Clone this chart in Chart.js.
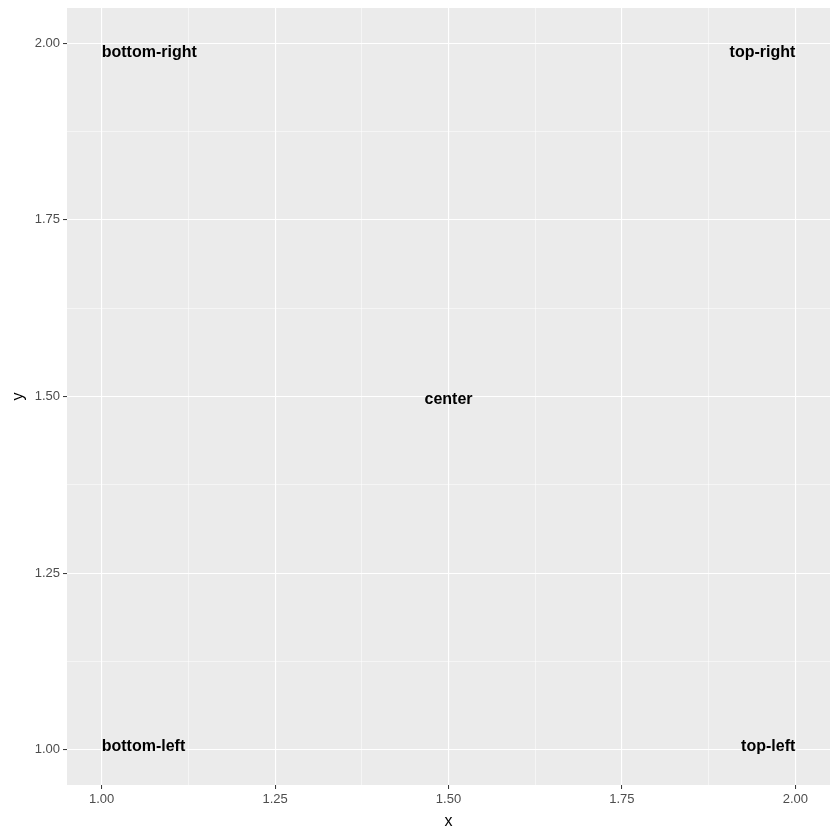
<!DOCTYPE html>
<html lang="en">
<head>
  <meta charset="UTF-8">
  <title>Text justification</title>
  <script src="https://cdn.jsdelivr.net/npm/chart.js"></script>
  <style>
    body { margin: 0; padding: 0; background: #fff; }
    .chart-container { width: 840px; height: 840px; }
  </style>
</head>
<body>
  <div class="chart-container">
    <canvas id="textChart" width="840" height="840"></canvas>
  </div>

  <script>
    // Daten
    const labelX = [1, 2, 1, 2, 1.5];
    const labelY = [1, 1, 2, 2, 1.5];
    const labelText = ['bottom-left', 'top-left', 'bottom-right', 'top-right', 'center'];

    const majorTicks = [1.00, 1.25, 1.50, 1.75, 2.00];
    const minorTicks = [1.125, 1.375, 1.625, 1.875];
    const axisMin = 0.95;
    const axisMax = 2.05;

    const allTicks = majorTicks.concat(minorTicks).sort((a, b) => a - b);
    const isMajor = v => majorTicks.some(m => Math.abs(m - v) < 1e-9);

    // Hintergrund des Panels (grau wie ggplot)
    const panelBg = {
      id: 'panelBg',
      beforeDraw(chart) {
        const { ctx, chartArea: a } = chart;
        ctx.save();
        ctx.fillStyle = '#ebebeb';
        ctx.fillRect(a.left, a.top, a.right - a.left, a.bottom - a.top);
        ctx.restore();
      }
    };

    // Texte mit "inward"-Ausrichtung
    const textLabels = {
      id: 'textLabels',
      afterDatasetsDraw(chart) {
        const { ctx, scales } = chart;
        const midX = (axisMin + axisMax) / 2;
        const midY = (axisMin + axisMax) / 2;
        ctx.save();
        ctx.fillStyle = '#000';
        ctx.font = 'bold 16px "Liberation Sans", Arial, sans-serif';
        labelText.forEach((t, i) => {
          const px = scales.x.getPixelForValue(labelX[i]);
          const py = scales.y.getPixelForValue(labelY[i]);
          ctx.textAlign = labelX[i] < midX ? 'left' : (labelX[i] > midX ? 'right' : 'center');
          let yOff = 0;
          if (labelY[i] > midY) { ctx.textBaseline = 'top'; yOff = 1; }
          else if (labelY[i] < midY) { ctx.textBaseline = 'alphabetic'; yOff = 1; }
          else { ctx.textBaseline = 'middle'; yOff = 3; }
          ctx.fillText(t, px, py + yOff);
        });
        ctx.restore();
      }
    };

    function axisOptions(title, isY) {
      return {
        type: 'linear',
        min: axisMin,
        max: axisMax,
        afterBuildTicks: axis => { axis.ticks = allTicks.map(v => ({ value: v })); },
        afterFit: axis => {
          if (isY) {
            axis.width = 67;
            axis.paddingTop = 0;
            axis.paddingBottom = 0;
          } else {
            axis.height = 55;
            axis.paddingLeft = 0;
            axis.paddingRight = 0;
          }
        },
        border: { display: false },
        grid: {
          drawTicks: true,
          tickLength: 4,
          color: '#ffffff',
          lineWidth: ctx => isMajor(ctx.tick.value) ? 1.1 : 0.5,
          tickColor: ctx => isMajor(ctx.tick.value) ? '#333333' : 'rgba(0,0,0,0)',
          tickWidth: 1
        },
        ticks: {
          autoSkip: false,
          maxRotation: 0,
          padding: 3,
          color: '#4d4d4d',
          font: { family: '"Liberation Sans", Arial, sans-serif', size: 13 },
          callback: v => isMajor(v) ? v.toFixed(2) : ''
        },
        title: {
          display: true,
          text: title,
          color: '#000',
          font: { family: '"Liberation Sans", Arial, sans-serif', size: 16 },
          padding: isY ? { top: 9, bottom: 0 } : { top: 0, bottom: 9 }
        }
      };
    }

    const ctx = document.getElementById('textChart').getContext('2d');
    new Chart(ctx, {
      type: 'scatter',
      data: {
        datasets: [{
          data: labelX.map((x, i) => ({ x: x, y: labelY[i] })),
          pointRadius: 0,
          pointHoverRadius: 0,
          showLine: false
        }]
      },
      options: {
        responsive: false,
        animation: false,
        layout: { padding: { top: 8, right: 10, left: 0, bottom: 0 } },
        plugins: {
          legend: { display: false },
          tooltip: { enabled: false }
        },
        scales: {
          x: axisOptions('x', false),
          y: axisOptions('y', true)
        }
      },
      plugins: [panelBg, textLabels]
    });
  </script>
</body>
</html>
